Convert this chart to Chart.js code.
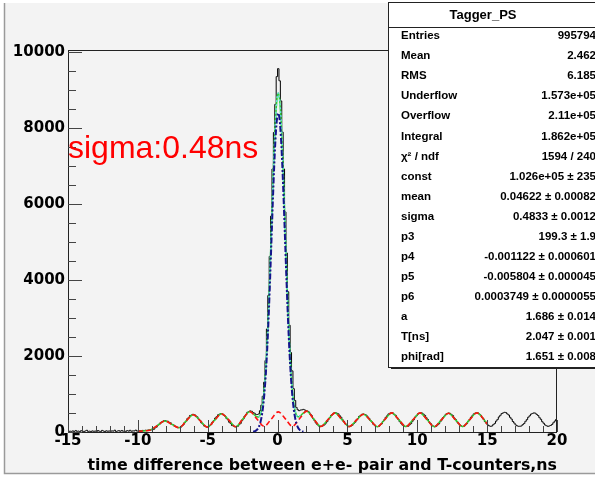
<!DOCTYPE html>
<html>
<head>
<meta charset="utf-8">
<script src="https://cdn.jsdelivr.net/npm/chart.js@4.4.0/dist/chart.umd.min.js"></script>
<style>
    html, body { margin: 0; padding: 0; background: #fff; }
    canvas { display: block; }
</style>
</head>
<body>
<canvas id="taggerChart" width="595" height="479"></canvas>
<script>
// histogram: 0.1 ns bins from -15 to 20 ns, one row per ns
const binStart = -15;
const binWidth = 0.1;
const histCounts = [
    8, 22, 15, 30, 12, 40, 18, 25, 10, 35,
    20, 14, 28, 45, 16, 22, 9, 30, 18, 26,
    12, 38, 20, 15, 42, 24, 11, 33, 19, 28,
    16, 30, 22, 48, 14, 26, 35, 18, 40, 21,
    25, 17, 38, 22, 45, 19, 30, 27, 50, 24,
    30, 36, 28, 42, 38, 47, 40, 52, 48, 55,
    62, 72, 110, 132, 180, 205, 252, 268, 295, 300,
    286, 282, 252, 240, 200, 186, 150, 140, 116, 120,
    118, 160, 185, 245, 285, 350, 385, 435, 448, 465,
    458, 422, 400, 340, 305, 242, 210, 160, 145, 128,
    136, 175, 200, 262, 302, 368, 404, 452, 468, 485,
    476, 440, 418, 358, 320, 255, 222, 170, 155, 138,
    142, 150, 190, 225, 295, 342, 418, 462, 518, 536,
    555, 545, 512, 495, 462, 460, 475, 560, 705, 940,
    1310, 1880, 2710, 3590, 4620, 5680, 6920, 7880, 8620, 9350,
    9560, 9240, 8710, 7890, 6920, 5790, 4710, 3690, 2810, 2090,
    1610, 1140, 830, 645, 585, 560, 578, 582, 595, 580,
    565, 548, 526, 470, 428, 352, 302, 236, 198, 158,
    152, 148, 165, 185, 232, 272, 338, 378, 440, 468,
    500, 508, 492, 478, 428, 390, 322, 280, 218, 190,
    152, 146, 158, 176, 222, 256, 318, 352, 410, 436,
    466, 472, 458, 444, 398, 362, 302, 265, 208, 180,
    146, 142, 148, 185, 215, 278, 320, 388, 426, 476,
    492, 508, 500, 466, 438, 378, 335, 270, 228, 182,
    160, 143, 148, 152, 190, 220, 280, 324, 388, 428,
    476, 492, 506, 498, 466, 436, 376, 330, 266, 224,
    176, 155, 138, 148, 184, 214, 272, 316, 380, 420,
    466, 482, 498, 490, 458, 430, 370, 328, 266, 226,
    180, 160, 143, 152, 190, 220, 280, 324, 388, 428,
    476, 492, 508, 500, 468, 438, 380, 336, 272, 232,
    186, 164, 148, 158, 195, 226, 286, 330, 396, 438,
    486, 502, 518, 510, 476, 446, 386, 340, 276, 234,
    186, 164, 148, 152, 158, 194, 222, 280, 325, 388,
    426, 470, 488, 503, 495, 462, 434, 378, 334, 272,
    230, 186, 165, 148, 158, 172, 198, 244, 288, 330
];

// background part of the fit (red dashed)
const bgX = [-10, -9.6, -9.1, -8.6, -8.07, -7.56, -7.05, -6.55, -6.04, -5.53, -5.03, -4.52, -4.01, -3.5, -3.0, -2.49,
    -1.98, -1.47, -0.96, -0.46, 0.05, 0.56, 1.06, 1.57, 2.08, 2.59, 3.09, 3.6, 4.11, 4.62, 5.12, 5.63, 6.14, 6.65,
    7.15, 7.66, 8.17, 8.68, 9.18, 9.69, 10.2, 10.71, 11.21, 11.72, 12.23, 12.74, 13.24, 13.75, 14.26, 14.77, 15];
const bgY = [15, 28, 55, 170, 290, 200, 112, 285, 455, 295, 128, 305, 478, 318, 138, 340,
    535, 340, 148, 338, 530, 345, 150, 350, 548, 340, 146, 322, 502, 318, 142, 305, 468, 305,
    140, 322, 502, 322, 144, 322, 502, 320, 140, 318, 494, 320, 144, 325, 504, 328, 210];

// total fit (green)
const fitX = [-10, -9.6, -9.1, -8.6, -8.07, -7.56, -7.05, -6.55, -6.04, -5.53, -5.03, -4.52, -4.01, -3.5, -3.0, -2.49,
    -1.98, -1.47, -1.35, -1.25, -1.15, -1.05, -0.95, -0.85, -0.75, -0.65, -0.55, -0.45, -0.35, -0.25, -0.15, -0.05,
    0.05, 0.15, 0.25, 0.35, 0.45, 0.55, 0.65, 0.75, 0.85, 0.95, 1.05, 1.15, 1.25, 1.35, 1.45, 1.55, 1.65, 1.75,
    2.08, 2.59, 3.09, 3.6, 4.11, 4.62, 5.12, 5.63, 6.14, 6.65, 7.15, 7.66, 8.17, 8.68, 9.18, 9.69, 10.2, 10.71,
    11.21, 11.72, 12.23, 12.74, 13.24, 13.75, 14.26, 14.77, 15];
const fitY = [15, 28, 55, 170, 290, 200, 112, 285, 455, 295, 128, 305, 478, 318, 138, 340,
    540, 399, 395, 446, 563, 781, 1134, 1639, 2319, 3170, 4165, 5255, 6356, 7372, 8196, 8733,
    8920, 8733, 8196, 7372, 6356, 5255, 4165, 3170, 2319, 1639, 1134, 781, 565, 449, 398, 404, 430, 468,
    548, 340, 146, 322, 502, 318, 142, 305, 468, 305, 140, 322, 502, 322, 144, 322, 502, 320,
    140, 318, 494, 320, 144, 325, 504, 328, 210];

// gaussian part of the fit (blue dash-dot)
const gausX = [-1.75, -1.65, -1.55, -1.45, -1.35, -1.25, -1.15, -1.05, -0.95, -0.85, -0.75, -0.65, -0.55,
    -0.45, -0.35, -0.25, -0.15, -0.05, 0.05, 0.15, 0.25, 0.35, 0.45, 0.55, 0.65, 0.75, 0.85, 0.95, 1.05,
    1.15, 1.25, 1.35, 1.45, 1.55, 1.65, 1.75, 1.85];
const gausY = [8, 17, 35, 68, 126, 224, 383, 627, 984, 1478, 2128, 2936, 3879,
    4910, 5954, 6918, 7701, 8212, 8390, 8212, 7701, 6918, 5954, 4910, 3879, 2936, 2128, 1478, 984,
    627, 383, 224, 126, 68, 35, 17, 8];

const xTickValues = [-15, -10, -5, 0, 5, 10, 15, 20];
const yTickValues = [0, 2000, 4000, 6000, 8000, 10000];
const xMinorStep = 1;
const yMinorStep = 500;

const statsTitle = 'Tagger_PS';
const statsLabels = ['Entries', 'Mean', 'RMS', 'Underflow', 'Overflow', 'Integral', 'χ² / ndf', 'const', 'mean',
    'sigma', 'p3', 'p4', 'p5', 'p6', 'a', 'T[ns]', 'phi[rad]'];
const statsValues = ['995794', '2.462', '6.185', '1.573e+05', '2.11e+05', '1.862e+05', '1594 / 240',
    '1.026e+05 ± 235', '0.04622 ± 0.00082', '0.4833 ± 0.0012', '199.3 ± 1.9', '-0.001122 ± 0.000601',
    '-0.005804 ± 0.000045', '0.0003749 ± 0.0000055', '1.686 ± 0.014', '2.047 ± 0.001', '1.651 ± 0.008'];

const xTitle = 'time difference between e+e- pair and T-counters,ns';
const sigmaNote = 'sigma:0.48ns';

const tickFont = { family: 'DejaVu Sans', weight: 'bold', size: 15 };
const titleFont = { family: 'DejaVu Sans', weight: 'bold', size: 15.8 };

function toPoints(xs, ys) {
    return xs.map((x, i) => ({ x: x, y: ys[i] }));
}

const histPoints = histCounts.map((v, i) => ({ x: binStart + (i + 0.5) * binWidth, y: v }));
// dotted cyan copy of the total fit around the peak
const peakFitPoints = toPoints(fitX, fitY).filter((p) => p.x > -1.4 && p.x < 1.8);

const padBackground = {
    id: 'padBackground',
    beforeDraw(chart) {
        const ctx = chart.ctx;
        ctx.save();
        ctx.fillStyle = '#ffffff';
        ctx.fillRect(0, 0, chart.width, chart.height);
        ctx.fillStyle = '#f3f3f3';
        ctx.fillRect(5, 3, chart.width - 5, 470);
        ctx.strokeStyle = '#9a9a9a';
        ctx.lineWidth = 1.5;
        ctx.beginPath();
        ctx.moveTo(4.5, 3);
        ctx.lineTo(4.5, 473.5);
        ctx.lineTo(chart.width, 473.5);
        ctx.stroke();
        ctx.restore();
    }
};

const frameTicks = {
    id: 'frameTicks',
    afterDatasetsDraw(chart) {
        const { ctx, chartArea: a, scales: { x, y } } = chart;
        ctx.save();
        ctx.lineWidth = 1;
        ctx.strokeStyle = '#222';
        ctx.strokeRect(a.left + 0.5, a.top + 0.5, a.right - a.left - 1, a.bottom - a.top);

        ctx.strokeStyle = '#444';
        ctx.beginPath();
        for (let v = x.min; v <= x.max + 1e-9; v += xMinorStep) {
            const px = Math.round(x.getPixelForValue(v)) + 0.5;
            const len = xTickValues.includes(Math.round(v)) ? 12 : 6;
            ctx.moveTo(px, a.bottom);
            ctx.lineTo(px, a.bottom - len);
        }
        for (let v = 0; v <= y.max; v += yMinorStep) {
            const py = Math.round(y.getPixelForValue(v)) + 0.5;
            const len = yTickValues.includes(v) ? 14 : 8;
            ctx.moveTo(a.left, py);
            ctx.lineTo(a.left + len, py);
        }
        ctx.stroke();
        ctx.restore();
    }
};

const statsBox = {
    id: 'statsBox',
    afterDraw(chart) {
        const ctx = chart.ctx;
        const left = 388, top = 2, bottom = 367, right = chart.width + 5;
        ctx.save();
        ctx.fillStyle = '#222';
        ctx.fillRect(left + 3, bottom, right - left, 2);
        ctx.fillStyle = '#ffffff';
        ctx.fillRect(left, top, right - left, bottom - top);
        ctx.strokeStyle = '#222';
        ctx.lineWidth = 1;
        ctx.strokeRect(left + 0.5, top + 0.5, right - left, bottom - top);
        ctx.beginPath();
        ctx.moveTo(left, 27.5);
        ctx.lineTo(right, 27.5);
        ctx.stroke();

        ctx.fillStyle = '#000';
        ctx.textBaseline = 'middle';
        ctx.font = 'bold 13px "Liberation Sans", Arial, sans-serif';
        ctx.textAlign = 'center';
        ctx.fillText(statsTitle, 483, 15);

        ctx.font = 'bold 11.5px "Liberation Sans", Arial, sans-serif';
        statsLabels.forEach((label, i) => {
            const yy = 36 + i * 20.07;
            ctx.textAlign = 'left';
            ctx.fillText(label, 401, yy);
            ctx.textAlign = 'right';
            ctx.fillText(statsValues[i], 596, yy);
        });

        ctx.fillStyle = '#ff0000';
        ctx.font = '32px "Liberation Sans", Arial, sans-serif';
        ctx.textAlign = 'left';
        ctx.textBaseline = 'alphabetic';
        ctx.fillText(sigmaNote, 68, 158);
        ctx.restore();
    }
};

new Chart(document.getElementById('taggerChart'), {
    type: 'line',
    data: {
        datasets: [
            {
                label: 'gaus',
                data: toPoints(gausX, gausY),
                borderColor: '#14148c',
                borderWidth: 2,
                borderDash: [6, 2, 2, 2],
                pointRadius: 0,
                cubicInterpolationMode: 'monotone',
                order: 1
            },
            {
                label: 'background',
                data: toPoints(bgX, bgY),
                borderColor: '#ff1010',
                borderWidth: 1.6,
                borderDash: [5, 3],
                pointRadius: 0,
                cubicInterpolationMode: 'monotone',
                order: 2
            },
            {
                label: 'peak fit',
                data: peakFitPoints,
                borderColor: '#66dddd',
                borderWidth: 1.5,
                borderDash: [2, 2],
                pointRadius: 0,
                cubicInterpolationMode: 'monotone',
                order: 3
            },
            {
                label: 'fit',
                data: toPoints(fitX, fitY),
                borderColor: '#33cc33',
                borderWidth: 1.5,
                pointRadius: 0,
                cubicInterpolationMode: 'monotone',
                order: 4
            },
            {
                label: 'Tagger_PS',
                data: histPoints,
                borderColor: '#000',
                borderWidth: 1,
                pointRadius: 0,
                stepped: 'middle',
                order: 5
            }
        ]
    },
    options: {
        responsive: false,
        animation: false,
        devicePixelRatio: 1,
        layout: { padding: { top: 50, right: 38, left: 0, bottom: 0 } },
        plugins: {
            legend: { display: false },
            tooltip: { enabled: false }
        },
        scales: {
            x: {
                type: 'linear',
                min: -15,
                max: 20,
                grid: { display: false, drawTicks: false },
                border: { display: false },
                afterBuildTicks: (scale) => { scale.ticks = xTickValues.map((v) => ({ value: v })); },
                afterFit: (scale) => { scale.height = 47; },
                ticks: {
                    color: '#000',
                    font: tickFont,
                    padding: 0,
                    maxRotation: 0,
                    autoSkip: false,
                    callback: (v) => String(v)
                },
                title: {
                    display: true,
                    align: 'end',
                    text: xTitle,
                    color: '#000',
                    font: titleFont,
                    padding: { top: 0, bottom: 4 }
                }
            },
            y: {
                min: 0,
                max: 10050,
                grid: { display: false, drawTicks: false },
                border: { display: false },
                afterBuildTicks: (scale) => { scale.ticks = yTickValues.map((v) => ({ value: v })); },
                afterFit: (scale) => { scale.width = 68; },
                ticks: {
                    color: '#000',
                    font: tickFont,
                    padding: 3,
                    callback: (v) => String(v)
                }
            }
        }
    },
    plugins: [padBackground, frameTicks, statsBox]
});
</script>
</body>
</html>
